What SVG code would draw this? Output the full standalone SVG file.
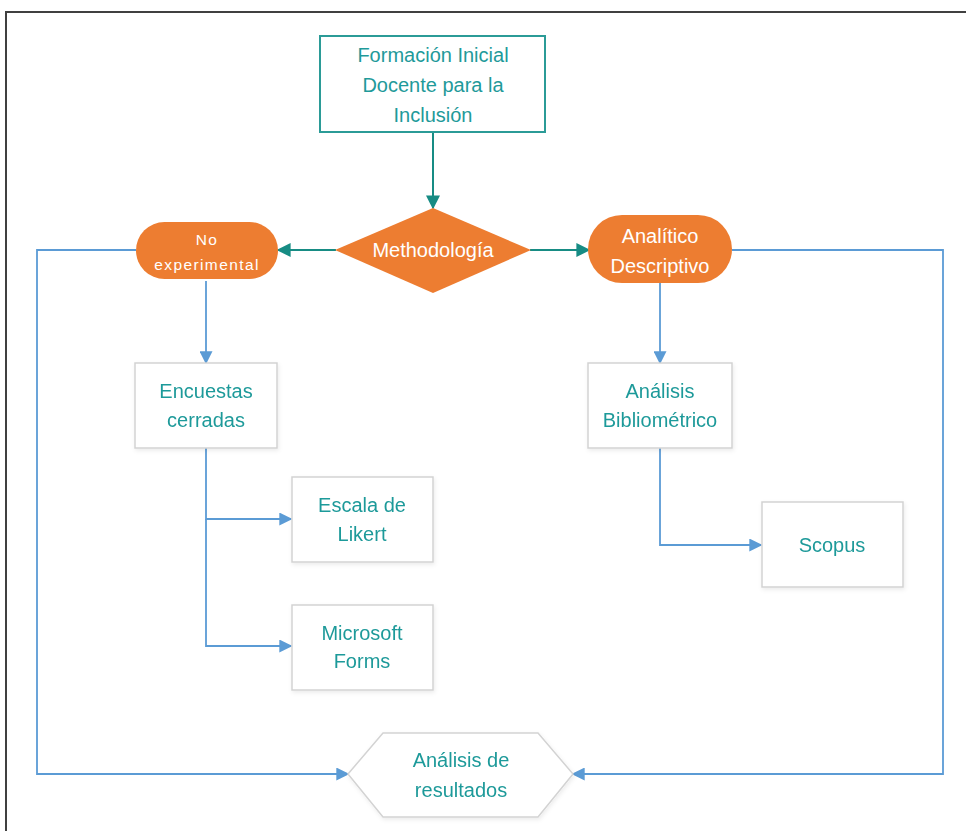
<svg xmlns="http://www.w3.org/2000/svg" width="966" height="831" viewBox="0 0 966 831">
  <style>
    .frame { fill: none; stroke: #404040; stroke-width: 2; }
    .box { fill: #ffffff; stroke: #d3d3d3; stroke-width: 1.5; }
    .topbox { fill: #ffffff; stroke: #2b9b97; stroke-width: 2; }
    .orange { fill: #ed7d31; stroke: none; }
    .lbl { font-family: "Liberation Sans", Arial, sans-serif; font-size: 20px; fill: #1f9a9a; text-anchor: middle; }
    .wlbl { font-family: "Liberation Sans", Arial, sans-serif; font-size: 20px; fill: #ffffff; text-anchor: middle; }
    .small { font-size: 15.5px; letter-spacing: 1.4px; }
    .teal { fill: none; stroke: #178c84; stroke-width: 2; }
    .blue { fill: none; stroke: #5b9bd5; stroke-width: 1.8; }
  </style>
  <defs>
    <marker id="arrTeal" viewBox="0 0 10 10" refX="9" refY="5" markerWidth="14" markerHeight="14" markerUnits="userSpaceOnUse" orient="auto">
      <path d="M0,0 L10,5 L0,10 z" fill="#178c84"/>
    </marker>
    <marker id="arrBlue" viewBox="0 0 10 10" refX="9" refY="5" markerWidth="13" markerHeight="13" markerUnits="userSpaceOnUse" orient="auto">
      <path d="M0,0 L10,5 L0,10 z" fill="#5b9bd5"/>
    </marker>
    <filter id="soft" x="-10%" y="-10%" width="125%" height="130%">
      <feDropShadow dx="1" dy="2" stdDeviation="2" flood-color="#000000" flood-opacity="0.08"/>
    </filter>
  </defs>

  <rect x="0" y="0" width="966" height="831" fill="#ffffff"/>
  <!-- outer frame, running off the right and bottom edges -->
  <path class="frame" d="M6,840 V12 H975"/>

  <!-- connectors -->
  <g id="connectors">
    <line class="teal" x1="433" y1="132" x2="433" y2="208" marker-end="url(#arrTeal)"/>
    <line class="teal" x1="336" y1="250" x2="278" y2="250" marker-end="url(#arrTeal)"/>
    <line class="teal" x1="530" y1="250" x2="589" y2="250" marker-end="url(#arrTeal)"/>

    <line class="blue" x1="206" y1="281" x2="206" y2="363" marker-end="url(#arrBlue)"/>
    <polyline class="blue" points="206,448 206,519 291,519" marker-end="url(#arrBlue)"/>
    <polyline class="blue" points="206,519 206,646 291,646" marker-end="url(#arrBlue)"/>

    <line class="blue" x1="660" y1="283" x2="660" y2="363" marker-end="url(#arrBlue)"/>
    <polyline class="blue" points="660,448 660,545 761,545" marker-end="url(#arrBlue)"/>

    <polyline class="blue" points="136,250 37,250 37,774 348,774" marker-end="url(#arrBlue)"/>
    <polyline class="blue" points="732,250 943,250 943,774 573,774" marker-end="url(#arrBlue)"/>
  </g>

  <g id="formacion">
    <rect class="topbox" x="320" y="36" width="225" height="96"/>
    <text class="lbl" x="433" y="62">Formación Inicial</text>
    <text class="lbl" x="433" y="92">Docente para la</text>
    <text class="lbl" x="433" y="122">Inclusión</text>
  </g>

  <g id="metodologia">
    <polygon class="orange" points="433,208 531,250 433,293 335,250"/>
    <text class="wlbl" x="433" y="257">Methodología</text>
  </g>

  <g id="no-experimental">
    <rect class="orange" x="136" y="222" width="142" height="57" rx="28.5"/>
    <text class="wlbl small" x="207" y="245">No</text>
    <text class="wlbl small" x="207" y="270">experimental</text>
  </g>

  <g id="analitico">
    <rect class="orange" x="588" y="215" width="144" height="68" rx="34"/>
    <text class="wlbl" x="660" y="243">Analítico</text>
    <text class="wlbl" x="660" y="273">Descriptivo</text>
  </g>

  <g id="encuestas" filter="url(#soft)">
    <rect class="box" x="135" y="363" width="142" height="85"/>
    <text class="lbl" x="206" y="398">Encuestas</text>
    <text class="lbl" x="206" y="427">cerradas</text>
  </g>

  <g id="likert" filter="url(#soft)">
    <rect class="box" x="292" y="477" width="141" height="85"/>
    <text class="lbl" x="362" y="512">Escala de</text>
    <text class="lbl" x="362" y="541">Likert</text>
  </g>

  <g id="forms" filter="url(#soft)">
    <rect class="box" x="292" y="605" width="141" height="85"/>
    <text class="lbl" x="362" y="640">Microsoft</text>
    <text class="lbl" x="362" y="668">Forms</text>
  </g>

  <g id="bibliometrico" filter="url(#soft)">
    <rect class="box" x="588" y="363" width="144" height="85"/>
    <text class="lbl" x="660" y="398">Análisis</text>
    <text class="lbl" x="660" y="427">Bibliométrico</text>
  </g>

  <g id="scopus" filter="url(#soft)">
    <rect class="box" x="762" y="502" width="141" height="85"/>
    <text class="lbl" x="832" y="552">Scopus</text>
  </g>

  <g id="resultados" filter="url(#soft)">
    <polygon class="box" points="348,774 383,733 538,733 573,774 538,817 383,817"/>
    <text class="lbl" x="461" y="767">Análisis de</text>
    <text class="lbl" x="461" y="797">resultados</text>
  </g>
</svg>
